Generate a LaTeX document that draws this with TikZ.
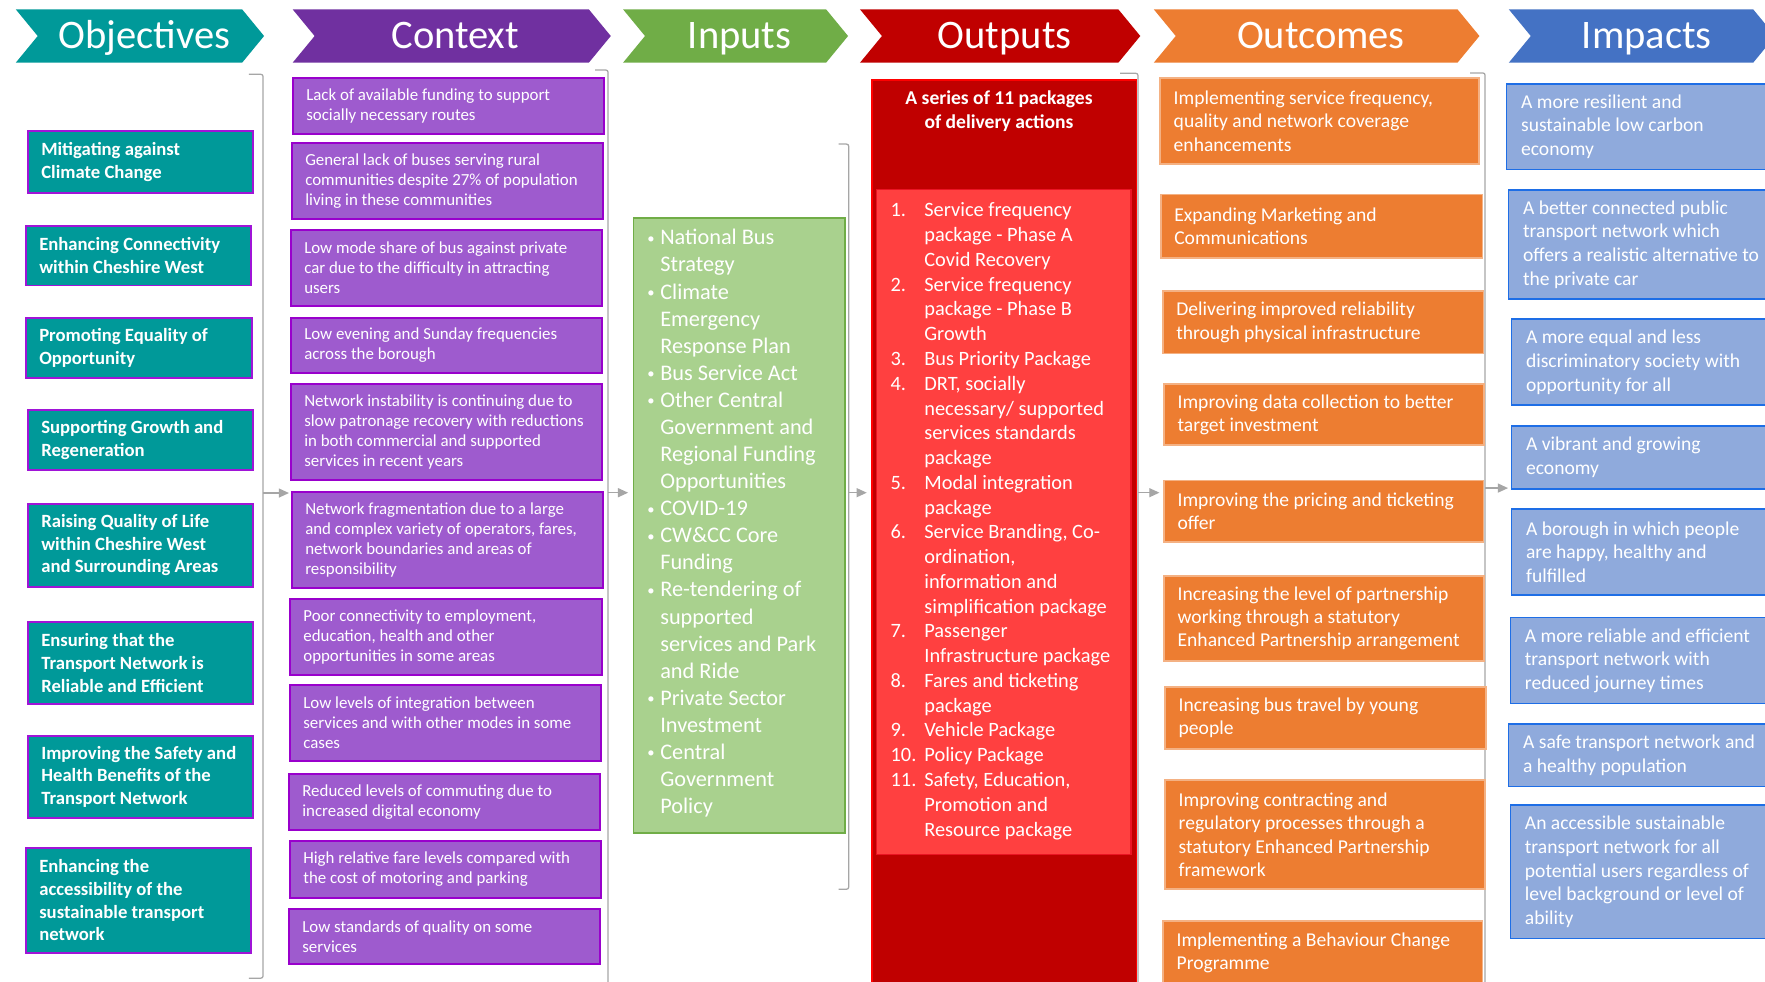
\documentclass[tikz,border=0pt]{standalone}
\usepackage{fontspec}
\setmainfont{Carlito}
\usetikzlibrary{arrows.meta}
\definecolor{objteal}{RGB}{0,153,153}
\definecolor{objbord}{RGB}{160,20,215}
\definecolor{ctxhdr}{RGB}{112,48,160}
\definecolor{ctxfill}{RGB}{158,91,206}
\definecolor{ctxbord}{RGB}{153,0,204}
\definecolor{inphdr}{RGB}{112,173,71}
\definecolor{inpfill}{RGB}{169,209,142}
\definecolor{outhdr}{RGB}{192,0,0}
\definecolor{outbord}{RGB}{255,0,0}
\definecolor{outin}{RGB}{255,64,64}
\definecolor{outinbord}{RGB}{235,20,35}
\definecolor{ochdr}{RGB}{237,125,49}
\definecolor{ocbord}{RGB}{244,177,131}
\definecolor{imphdr}{RGB}{68,114,196}
\definecolor{impfill}{RGB}{143,170,220}
\definecolor{impbord}{RGB}{30,110,230}
\definecolor{brkgray}{RGB}{166,166,166}

\newcommand\chev[6]{%
  \fill[#2] (#3,8.3) -- (#4-19.5,8.3) -- (#4,32) -- (#4-19.5,55.7) -- (#3,55.7) -- (#3+19.5,32) -- cycle;
  \node[hdr] (#1) at (#5,43) {#6};
}
\def\bxpad{12.5}
\newcommand\bx[8]{%
  \pgfmathsetmacro\bxw{#6-#4}%
  \pgfmathsetmacro\bxh{#7-#5}%
  \node[#2, anchor=north west, minimum width=\bxw pt, minimum height=\bxh pt, inner sep=0pt] (#1) at (#4,#5) {};
  \node[#3, anchor=west, align=left, inner sep=0pt] (#1t) at ([xshift=\bxpad pt]#1.west) {#8};
}
\newcommand\bul{\makebox[0pt]{\raisebox{1.3pt}{\fontsize{13}{13}\selectfont\textbullet}}\hspace{8.3pt}}
\newcommand\ind{\hspace*{8.3pt}}
\newcommand\onum[1]{\makebox[30pt][l]{#1}}
\newcommand\oind{\hspace*{30pt}}

\begin{document}
\begin{tikzpicture}[x=1pt,y=-1pt,
  hdr/.style={text=white, font=\fontsize{36}{40}\selectfont, anchor=base, inner sep=0pt},
  objbox/.style={fill=objteal, draw=objbord, line width=1.5pt},
  objtxt/.style={text=white, font=\fontsize{16.6}{20.1}\selectfont\bfseries},
  ctxbox/.style={fill=ctxfill, draw=ctxbord, line width=1.5pt},
  ctxtxt/.style={text=white, font=\fontsize{15}{17.8}\selectfont},
  ocbox/.style={fill=ochdr, draw=ocbord, line width=1.5pt},
  octxt/.style={text=white, font=\fontsize{17.4}{20.8}\selectfont},
  imbox/.style={fill=impfill, draw=impbord, line width=1.5pt},
  imtxt/.style={text=white, font=\fontsize{17.4}{21}\selectfont},
  inptxt/.style={text=white, font=\fontsize{19.8}{24.06}\selectfont},
  outtxt/.style={text=white, font=\fontsize{18.1}{22}\selectfont},
  outhtxt/.style={text=white, font=\fontsize{17.4}{21.3}\selectfont\bfseries},
  brk/.style={draw=brkgray, line width=1.1pt, rounded corners=2pt},
  arr/.style={draw=brkgray, line width=1.1pt, -{Triangle[length=9pt,width=8pt]}},
]
\useasboundingbox (0,0) rectangle (1568,872);
\clip (0,0) rectangle (1568,872);
\fill[white] (0,0) rectangle (1568,872);

% headers
\chev{hObj}{objteal}{14}{234.6}{128.5}{Objectives}
\chev{hCtx}{ctxhdr}{260}{542.6}{404.5}{Context}
\chev{hInp}{inphdr}{553.5}{753.4}{657}{Inputs}
\chev{hOut}{outhdr}{764}{1013}{892.5}{Outputs}
\chev{hOc}{ochdr}{1025}{1314.3}{1173.5}{Outcomes}
\chev{hImp}{imphdr}{1340.4}{1577}{1463}{Impacts}

% brackets
\draw[brk] (221,66) -- (233.7,66) -- (233.7,869) -- (221,869);
\draw[brk] (528.6,62.2) -- (540.2,62.2) -- (540.2,880);
\draw[brk] (745,128) -- (754,128) -- (754,790) -- (745,790);
\draw[brk] (995,65.1) -- (1011,65.1) -- (1011,880);
\draw[brk] (1306,64.8) -- (1319.3,64.8) -- (1319.3,880);

% objectives
\bx{ob1}{objbox}{objtxt}{24}{115.5}{224}{170.6}{Mitigating against\\Climate Change}
\bx{ob2}{objbox}{objtxt}{22.2}{200}{222}{253}{Enhancing Connectivity\\within Cheshire West}
\bx{ob3}{objbox}{objtxt}{22.2}{281.6}{223}{335}{Promoting Equality of\\Opportunity}
\bx{ob4}{objbox}{objtxt}{24}{363.4}{224}{416.7}{Supporting Growth and\\Regeneration}
\bx{ob5}{objbox}{objtxt}{24}{446.9}{224}{520.6}{Raising Quality of Life\\within Cheshire West\\and Surrounding Areas}
\bx{ob6}{objbox}{objtxt}{24}{551.7}{224}{624.6}{Ensuring that the\\Transport Network is\\Reliable and Efficient}
\bx{ob7}{objbox}{objtxt}{24}{653}{224}{725.8}{Improving the Safety and\\Health Benefits of the\\Transport Network}
\bx{ob8}{objbox}{objtxt}{22.2}{752.5}{222}{845.8}{Enhancing the\\accessibility of the\\sustainable transport\\network}

% context
\bx{cb1}{ctxbox}{ctxtxt}{259.4}{68.4}{535.7}{118.2}{Lack of available funding to support\\socially necessary routes}
\bx{cb2}{ctxbox}{ctxtxt}{258.5}{126.1}{534.8}{193.7}{General lack of buses serving rural\\communities despite 27\% of population\\living in these communities}
\bx{cb3}{ctxbox}{ctxtxt}{257.6}{203.4}{534}{271}{Low mode share of bus against private\\car due to the difficulty in attracting\\users}
\bx{cb4}{ctxbox}{ctxtxt}{257.6}{281.6}{534}{330.5}{Low evening and Sunday frequencies\\across the borough}
\bx{cb5}{ctxbox}{ctxtxt}{257.6}{340.3}{534}{425.5}{Network instability is continuing due to\\slow patronage recovery with reductions\\in both commercial and supported\\services in recent years}
\bx{cb6}{ctxbox}{ctxtxt}{258.5}{436.2}{534.8}{521.5}{Network fragmentation due to a large\\and complex variety of operators, fares,\\network boundaries and areas of\\responsibility}
\bx{cb7}{ctxbox}{ctxtxt}{256.8}{531.3}{534}{598.8}{Poor connectivity to employment,\\education, health and other\\opportunities in some areas}
\bx{cb8}{ctxbox}{ctxtxt}{256.8}{607.7}{533}{675.2}{Low levels of integration between\\services and with other modes in some\\cases}
\bx{cb9}{ctxbox}{ctxtxt}{255.9}{686.7}{532.1}{736.5}{Reduced levels of commuting due to\\increased digital economy}
\bx{cb10}{ctxbox}{ctxtxt}{256.8}{746.3}{533}{796.9}{High relative fare levels compared with\\the cost of motoring and parking}
\bx{cb11}{ctxbox}{ctxtxt}{255.9}{806.7}{532.1}{855.5}{Low standards of quality on some\\services}

% inputs
\node[fill=inpfill, draw=inphdr, line width=1.5pt, anchor=north west, minimum width=188pt, minimum height=546pt, inner sep=0pt] (inp) at (562,193) {};
\node[inptxt, anchor=base west, align=left, inner sep=0pt] (inpt) at (578.1,722.8) {%
\bul National Bus\\\ind Strategy\\\bul Climate\\\ind Emergency\\\ind Response Plan\\\bul Bus Service Act\\\bul Other Central\\\ind Government and\\\ind Regional Funding\\\ind Opportunities\\\bul COVID-19\\\bul CW\&CC Core\\\ind Funding\\\bul Re-tendering of\\\ind supported\\\ind services and Park\\\ind and Ride\\\bul Private Sector\\\ind Investment\\\bul Central\\\ind Government\\\ind Policy};

% outputs
\node[fill=outhdr, draw=outbord, line width=1.5pt, anchor=north west, minimum width=235.2pt, minimum height=820pt, inner sep=0pt] (outO) at (773.8,70.5) {};
\node[fill=outin, draw=outinbord, line width=1.2pt, anchor=north west, minimum width=226pt, minimum height=590.7pt, inner sep=0pt] (outL) at (778,168) {};
\node[outhtxt, anchor=base, align=center, inner sep=0pt] (outh) at (887.5,114) {A series of 11 packages\\of delivery actions};
\node[outtxt, anchor=base west, align=left, inner sep=0pt] (outl) at (791,742.7) {%
\onum{1.}Service frequency\\\oind package - Phase A\\\oind Covid Recovery\\\onum{2.}Service frequency\\\oind package - Phase B\\\oind Growth\\\onum{3.}Bus Priority Package\\\onum{4.}DRT, socially\\\oind necessary/ supported\\\oind services standards\\\oind package\\\onum{5.}Modal integration\\\oind package\\\onum{6.}Service Branding, Co-\\\oind ordination,\\\oind information and\\\oind simplification package\\\onum{7.}Passenger\\\oind Infrastructure package\\\onum{8.}Fares and ticketing\\\oind package\\\onum{9.}Vehicle Package\\\onum{10.}Policy Package\\\onum{11.}Safety, Education,\\\oind Promotion and\\\oind Resource package};

% outcomes
\bx{oc1}{ocbox}{octxt}{1030}{68.4}{1313}{144.9}{Implementing service frequency,\\quality and network coverage\\enhancements}
\bx{oc2}{ocbox}{octxt}{1030.5}{172}{1316.3}{228.3}{Expanding Marketing and\\Communications}
\bx{oc3}{ocbox}{octxt}{1032.3}{258}{1317.2}{313.3}{Delivering improved reliability\\through physical infrastructure}
\bx{oc4}{ocbox}{octxt}{1033.5}{340.6}{1317.8}{394.7}{Improving data collection to better\\target investment}
\bx{oc5}{ocbox}{octxt}{1033.5}{426.2}{1317.2}{481}{Improving the pricing and ticketing\\offer}
\bx{oc6}{ocbox}{octxt}{1033.5}{510.8}{1317.8}{586.5}{Increasing the level of partnership\\working through a statutory\\Enhanced Partnership arrangement}
\bx{oc7}{ocbox}{octxt}{1034.4}{609.8}{1319.3}{664.4}{Increasing bus travel by young\\people}
\bx{oc8}{ocbox}{octxt}{1034.4}{692.3}{1318.7}{789.2}{Improving contracting and\\regulatory processes through a\\statutory Enhanced Partnership\\framework}
\bx{oc9}{ocbox}{octxt}{1032.6}{817.6}{1316.3}{874}{Implementing a Behaviour Change\\Programme}

% impacts
\def\bxpad{13.5}
\bx{im1}{imbox}{imtxt}{1337.6}{73.6}{1580}{149.9}{A more resilient and\\sustainable low carbon\\economy}
\bx{im2}{imbox}{imtxt}{1339.4}{167.9}{1580}{264.8}{A better connected public\\transport network which\\offers a realistic alternative to\\the private car}
\bx{im3}{imbox}{imtxt}{1342}{282.9}{1580}{359.2}{A more equal and less\\discriminatory society with\\opportunity for all}
\bx{im4}{imbox}{imtxt}{1342}{377.8}{1580}{433.4}{A vibrant and growing\\economy}
\bx{im5}{imbox}{imtxt}{1342}{451.5}{1580}{527.7}{A borough in which people\\are happy, healthy and\\fulfilled}
\bx{im6}{imbox}{imtxt}{1341}{547.9}{1580}{624.2}{A more reliable and efficient\\transport network with\\reduced journey times}
\bx{im7}{imbox}{imtxt}{1339.4}{642.3}{1580}{698}{A safe transport network and\\a healthy population}
\bx{im8}{imbox}{imtxt}{1341}{714.5}{1580}{833}{An accessible sustainable\\transport network for all\\potential users regardless of\\level background or level of\\ability}

% arrows
\coordinate (b1a) at (233.7,438);
\coordinate (b2a) at (540.2,437.7);
\coordinate (b3a) at (754,437.7);
\coordinate (b4a) at (1011,437.7);
\coordinate (b5a) at (1319.3,433.6);
\draw[arr, shorten >=1.8pt] (b1a) -- (b1a -| cb6.west);
\draw[arr, shorten >=4pt] (b2a) -- (b2a -| inp.west);
\draw[arr, shorten >=3.8pt] (b3a) -- (b3a -| outO.west);
\draw[arr, shorten >=3.5pt] (b4a) -- (b4a -| oc5.west);
\draw[arr, shorten >=2.3pt] (b5a) -- (b5a -| im4.west);
\end{tikzpicture}
\end{document}
